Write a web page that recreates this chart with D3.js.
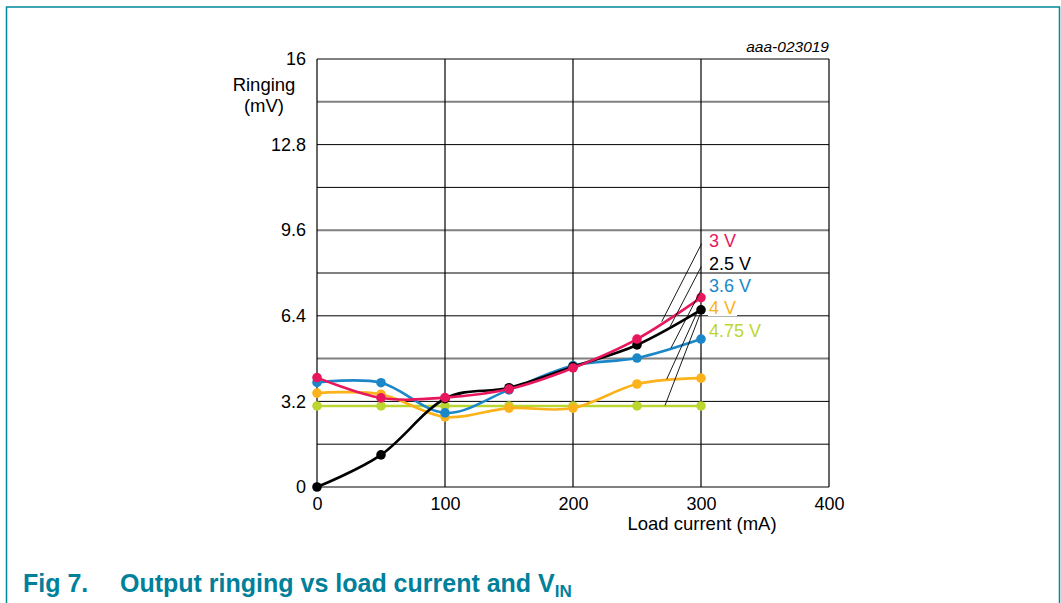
<!DOCTYPE html>
<html><head><meta charset="utf-8">
<script src="https://cdn.jsdelivr.net/npm/d3@7/dist/d3.min.js"></script>
<style>body{margin:0;background:#fff}svg{display:block}text{font-family:"Liberation Sans",Arial,sans-serif}</style>
</head><body><svg id="c" width="1061" height="603"></svg>
<script>
const loads = [0, 50, 100, 150, 200, 250, 300];
const xTicks = [0, 100, 200, 300, 400];
const yTicks = [0, 3.2, 6.4, 9.6, 12.8, 16];
const series = [
  {name: "4.75 V", color: "#bcd631", values: [3.03, 3.03, 3.03, 3.03, 3.03, 3.03, 3.03]},
  {name: "4 V",    color: "#fbb21b", values: [3.51, 3.47, 2.62, 2.95, 2.95, 3.85, 4.07]},
  {name: "3.6 V",  color: "#1b87c8", values: [3.91, 3.9, 2.77, 3.63, 4.54, 4.82, 5.53]},
  {name: "2.5 V",  color: "#000000", values: [0, 1.2, 3.3, 3.71, 4.5, 5.31, 6.62]},
  {name: "3 V",    color: "#e8175d", values: [4.09, 3.33, 3.34, 3.66, 4.45, 5.53, 7.08]}
];
const legendOrder = ["3 V", "2.5 V", "3.6 V", "4 V", "4.75 V"];
// leader lines in data units: [label end x, y, curve point x, y]
const leaders = {
  "3 V":    [300.5, 9.1, 269.3, 6.18],
  "2.5 V":  [300.2, 8.24, 275.8, 5.99],
  "3.6 V":  [300.0, 7.36, 276.6, 5.2],
  "4 V":    [298.5, 6.69, 273.2, 4.03],
  "4.75 V": [299.0, 6.43, 271.9, 3.05]
};

const svg = d3.select("#c");
const x = d3.scaleLinear().domain([0, 400]).range([317, 829]);
const y = d3.scaleLinear().domain([0, 16]).range([487, 59]);
const FONT = "Liberation Sans, Arial, sans-serif";

// frame
svg.append("path").attr("d", "M6.5,604 V7 H1059.5 V604").attr("fill","none").attr("stroke","#00879a").attr("stroke-width",1.5);

// grid
const g = svg.append("g");
const minor = d3.range(0, 16.01, 1.6);
minor.forEach((v,i) => {
  const gray = (i % 3 === 0) && v < 16;
  g.append("line").attr("x1", x(0)).attr("x2", x(400)).attr("y1", y(v)).attr("y2", y(v))
    .attr("stroke", gray ? "#808080" : "#000").attr("stroke-width", gray ? 2 : 1);
});
xTicks.forEach(v => {
  g.append("line").attr("x1", x(v)).attr("x2", x(v)).attr("y1", y(0)).attr("y2", y(16))
    .attr("stroke", "#000").attr("stroke-width", 1.2);
});

// axes labels
const xa = svg.append("g").attr("transform", `translate(0,${y(0)})`)
  .call(d3.axisBottom(x).tickValues(xTicks).tickSize(0).tickPadding(10).tickFormat(d3.format("d")));
xa.select(".domain").remove();
xa.selectAll("text").attr("font-size", 18).attr("fill","#000").attr("font-family", FONT);
const ya = svg.append("g").attr("transform", `translate(${x(0)},0)`)
  .call(d3.axisLeft(y).tickValues(yTicks).tickSize(0).tickPadding(11).tickFormat(d => d === 0 || d === 16 ? d : d.toFixed(1)));
ya.select(".domain").remove();
ya.selectAll("text").attr("font-size", 18).attr("fill","#000").attr("font-family", FONT);

svg.append("text").attr("x", 264).attr("y", 91).attr("text-anchor","middle").attr("font-size",18.5).text("Ringing");
svg.append("text").attr("x", 264).attr("y", 112).attr("text-anchor","middle").attr("font-size",18.5).text("(mV)");
svg.append("text").attr("x", 702).attr("y", 530).attr("text-anchor","middle").attr("font-size",18.5).text("Load current (mA)");
svg.append("text").attr("x", 829).attr("y", 52).attr("text-anchor","end").attr("font-size",15.5).attr("font-style","italic").text("aaa-023019");

// series
const line = d3.line().x((d,i) => x(loads[i])).y(d => y(d)).curve(d3.curveCardinal.tension(0));
series.forEach(s => {
  svg.append("path").attr("d", line(s.values)).attr("fill","none").attr("stroke", s.color).attr("stroke-width", 2.6);
  svg.append("g").selectAll("circle").data(s.values).join("circle")
    .attr("cx", (d,i) => x(loads[i])).attr("cy", d => y(d)).attr("r", 4.8).attr("fill", s.color);
});

// legend labels
const labelY = [241, 264, 286, 308, 331];
legendOrder.forEach((n, i) => {
  const s = series.find(d => d.name === n);
  const L = leaders[n];
  svg.append("line").attr("x1", x(L[0])).attr("y1", y(L[1])).attr("x2", x(L[2])).attr("y2", y(L[3]))
    .attr("stroke","#000").attr("stroke-width",0.9);
  const lg = svg.append("g");
  const r = lg.append("rect").attr("fill","#fff");
  const t = lg.append("text").attr("x", 709).attr("y", labelY[i] + 6).attr("font-size",18).attr("fill", s.color).text(n);
  const bb = t.node().getBBox();
  r.attr("x", bb.x - 1).attr("y", bb.y + 2).attr("width", bb.width + 2).attr("height", bb.height - 4);
});

// title
const title = svg.append("text").attr("y", 592).attr("font-size", 25).attr("font-weight","bold").attr("fill","#00809a");
title.append("tspan").attr("x", 23).text("Fig 7.");
title.append("tspan").attr("x", 120).text("Output ringing vs load current and V");
title.append("tspan").attr("font-size", 17).attr("dy", 5).text("IN");
</script></body></html>
